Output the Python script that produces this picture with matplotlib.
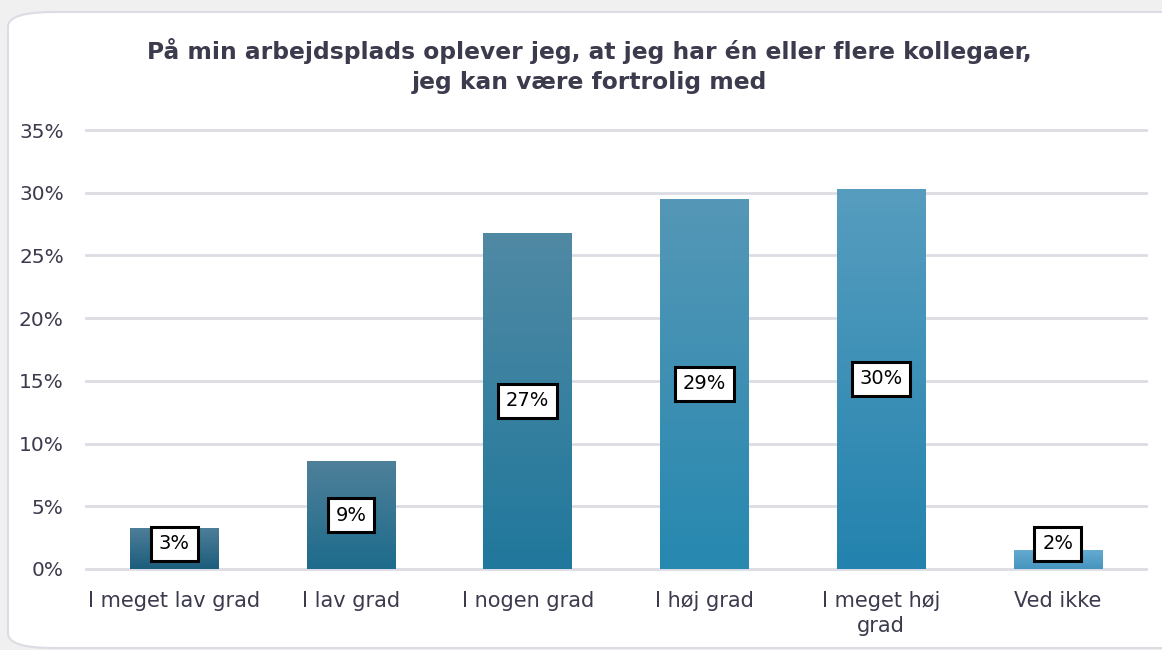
import numpy as np
import matplotlib
matplotlib.use("Agg")
import matplotlib.pyplot as plt
from matplotlib.colors import LinearSegmentedColormap
from matplotlib.patches import FancyBboxPatch

# data
categories = ["I meget lav grad", "I lav grad", "I nogen grad", "I høj grad",
              "I meget høj\ngrad", "Ved ikke"]
values = [3.3, 8.6, 26.8, 29.5, 30.3, 1.5]
labels = ["3%", "9%", "27%", "29%", "30%", "2%"]
yticks = [0, 5, 10, 15, 20, 25, 30, 35]

title = "På min arbejdsplads oplever jeg, at jeg har én eller flere kollegaer,\njeg kan være fortrolig med"

# gradient colours per bar (bottom, top)
bar_colors = [("#1b5d7c", "#4f7f99"), ("#1e6b8c", "#4e8099"), ("#20789c", "#5089a4"),
              ("#2788b0", "#5597b6"), ("#2383ae", "#579dbf"), ("#4595bf", "#65aad0")]

text_col = "#3b3b4d"
plt.rcParams['font.family'] = ['DejaVu Sans']

fig = plt.figure(figsize=(11.62, 6.5), dpi=100)
fig.patch.set_facecolor("#f0f0f0")

# white card with rounded corners
card = FancyBboxPatch((8 / 1162, 0.003), 1.2, 1 - 12 / 650 - 0.003,
                      boxstyle="round,pad=0,rounding_size=0.04",
                      transform=fig.transFigure, facecolor="white",
                      edgecolor="#dcdce4", linewidth=1.5, mutation_aspect=650 / 1162,
                      zorder=-10)
fig.patches.append(card)

ax = fig.add_axes([86 / 1162, 1 - 569 / 650, (1146 - 86) / 1162, (569 - 130) / 650])
ax.set_facecolor("none")

x = np.arange(len(categories))
bars = ax.bar(x, values, width=0.5, color="none", zorder=2)

grad = np.linspace(0, 1, 256).reshape(-1, 1)
for b, (c0, c1) in zip(bars, bar_colors):
    cmap = LinearSegmentedColormap.from_list("g", [c0, c1])
    x0, y0 = b.get_x(), b.get_y()
    im = ax.imshow(grad, cmap=cmap, origin="lower", aspect="auto",
                   extent=[x0, x0 + b.get_width(), y0, y0 + b.get_height()], zorder=2)
    im.set_clip_path(b)

for xi, v, lab in zip(x, values, labels):
    ax.text(xi, max(v / 2, 2.0), lab, ha="center", va="center", fontsize=14,
            color="black", zorder=4,
            bbox=dict(boxstyle="square,pad=0.4", facecolor="white",
                      edgecolor="black", linewidth=2.2))

ax.set_xlim(-0.5, len(categories) - 0.5)
ax.set_ylim(0, 35)
ax.set_yticks(yticks)
ax.set_yticklabels([f"{t}%" for t in yticks])
ax.set_xticks(x)
ax.set_xticklabels(categories, linespacing=1.3)
ax.tick_params(axis="both", length=0, colors=text_col)
ax.tick_params(axis="y", pad=16, labelsize=14.5)
ax.tick_params(axis="x", pad=16, labelsize=15)
ax.grid(axis="y", color="#dcdce4", linewidth=2, zorder=0)
ax.set_axisbelow(True)
for gl in ax.get_ygridlines():
    gl.set_clip_on(False)
for s in ax.spines.values():
    s.set_visible(False)

fig.text(589 / 1162, 1 - 66 / 650, title, ha="center", va="center", fontsize=16.8,
         fontweight="bold", color=text_col, linespacing=1.35)

fig.savefig("out.png", dpi=100, facecolor=fig.get_facecolor())
